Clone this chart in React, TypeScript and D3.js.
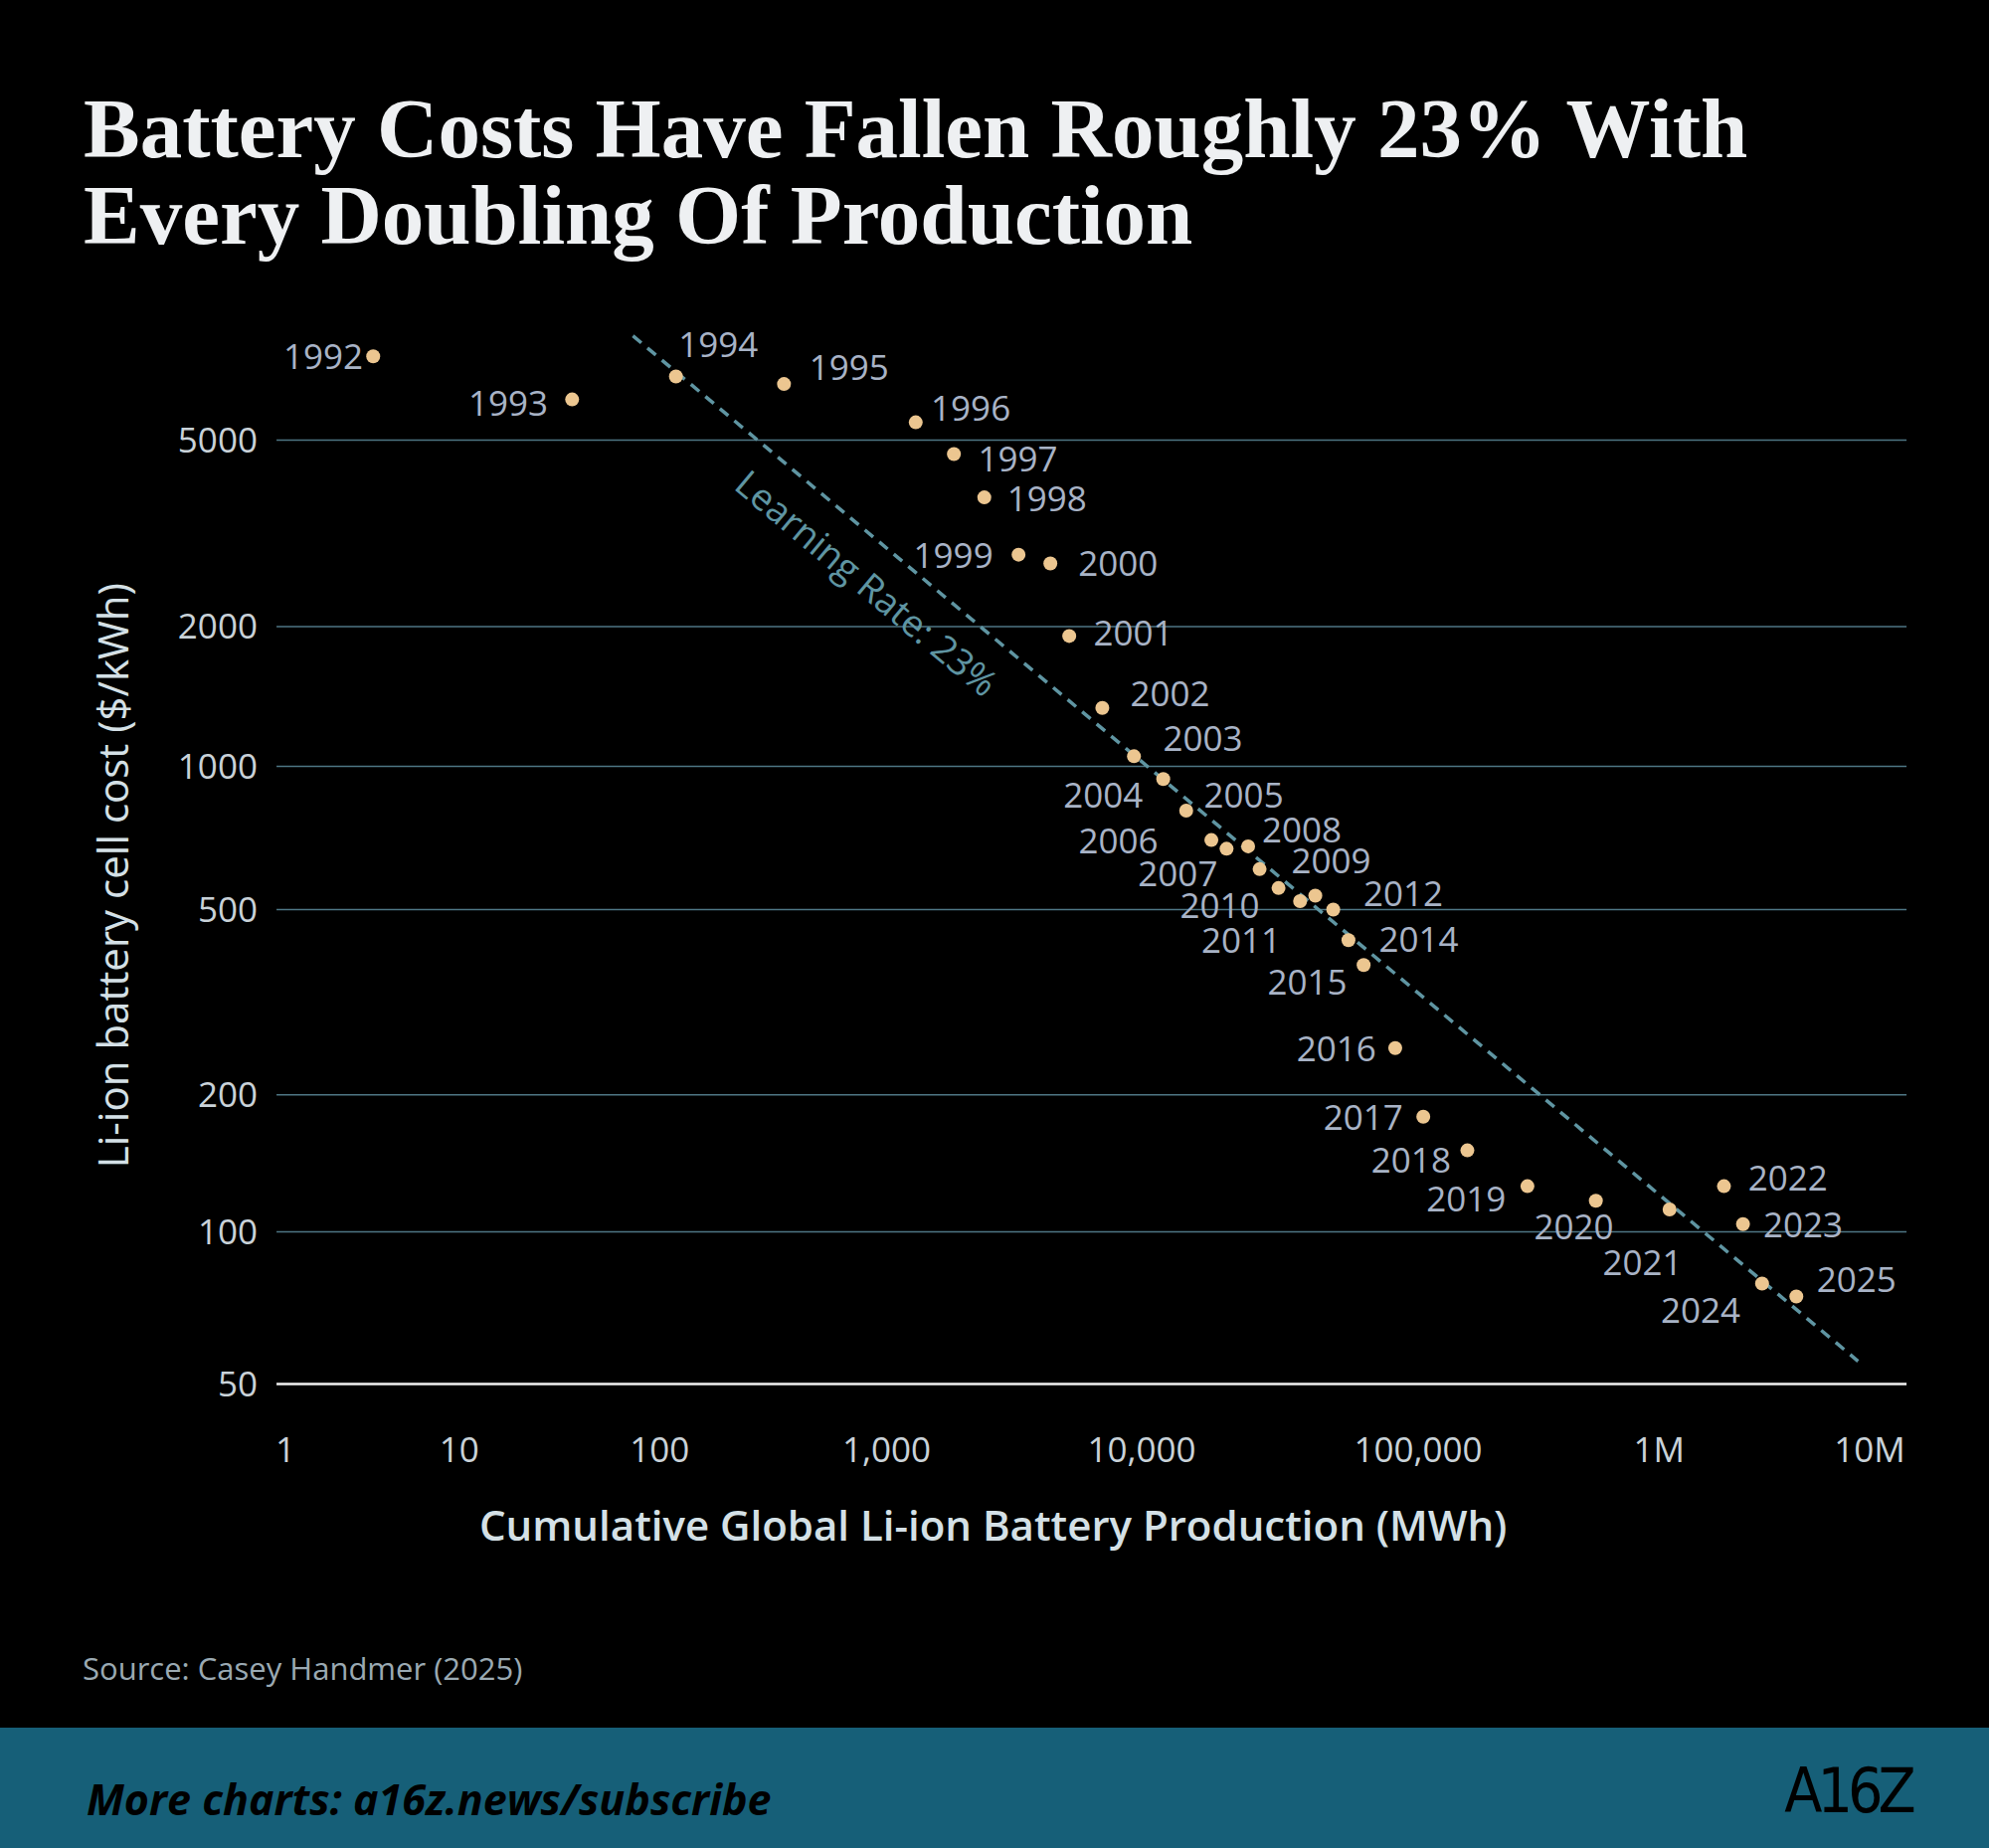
import { useRef, useEffect } from 'react';
import * as d3 from 'd3';

const S = 2000 / 1568;

const years = d3.range(1992, 2026);
const production = [3.2, 36.6, 118, 353, 1300, 1835, 2415, 3290, 4385, 5200, 7010, 9330, 11970, 14490, 17870, 20280, 24270, 26700, 31260, 37410, 42460, 49300, 55960, 63500, 82600, 105000, 160000, 284000, 546000, 1120000, 2030000, 2500000, 3080000, 4480000];
const cost = [7550, 6110, 6840, 6590, 5460, 4670, 3775, 2850, 2730, 1910, 1336, 1051, 940, 807, 700, 671, 679, 608, 555, 521, 535, 500, 430, 380, 252, 179, 151, 126, 117, 112, 126, 104, 79, 74.5];
// label placement: [dx, dy, anchor] in display px
const labelPos: [number, number, string][] = [
  [-8, 0, 'end'], [-19, 3, 'end'], [2, -25, 'start'], [20, -13, 'start'], [12, -11, 'start'],
  [19, 4, 'start'], [18, 1, 'start'], [-20, 1, 'end'], [22, 0, 'start'], [19, -2, 'start'],
  [22, -11, 'start'], [23, -14, 'start'], [-16, 13, 'end'], [14, -12, 'start'], [-42, 1, 'end'],
  [-7, 20, 'end'], [11, -13, 'start'], [25, -6, 'start'], [-15, 14, 'end'], [-15, 31, 'end'],
  [38, -1, 'start'], [0, 0, 'none'], [24, 0, 'start'], [-13, 14, 'end'], [-15, 1, 'end'],
  [-16, 1, 'end'], [-13, 8, 'end'], [-17, 10, 'end'], [14, 21, 'end'], [10, 42, 'end'],
  [19, -6, 'start'], [16, 1, 'start'], [-17, 21, 'end'], [16, -13, 'start'],
];

const xTicks = [1, 10, 100, 1000, 10000, 100000, 1000000, 10000000];
const xTickLabels = ['1', '10', '100', '1,000', '10,000', '100,000', '1M', '10M'];
const xTickPx = [225, 362, 520, 699, 900, 1118, 1308, 1474];
const yTicks = [50, 100, 200, 500, 1000, 2000, 5000];
const yTickPx = [1091, 971, 863, 717, 604, 494, 347];
const trend = [[73.6, 8350], [8800000, 55.5]];

export default function App() {
  const ref = useRef<SVGSVGElement>(null);
  useEffect(() => {
    const svg = d3.select(ref.current!);
    svg.selectAll('*').remove();
    const x = d3.scaleLog().domain(xTicks).range(xTickPx.map(v => v * S));
    const y = d3.scaleLog().domain(yTicks).range(yTickPx.map(v => v * S));
    const font = '"Open Sans", sans-serif';

    svg.append('rect').attr('width', 2000).attr('height', 1858).attr('fill', '#000');

    const title = svg.append('text').attr('font-family', '"Liberation Serif", serif').attr('font-size', 85)
      .attr('fill', '#eef0f2').attr('font-weight', 'bold');
    title.append('tspan').attr('x', 84).attr('y', 158).text('Battery Costs Have Fallen Roughly 23% With');
    title.append('tspan').attr('x', 84).attr('y', 245).text('Every Doubling Of Production');

    // grid
    yTicks.forEach(t => {
      svg.append('line').attr('x1', 218 * S).attr('x2', 1503 * S).attr('y1', y(t)).attr('y2', y(t))
        .attr('stroke', t === 50 ? '#f2f2f2' : '#4e7684').attr('stroke-width', t === 50 ? 2.5 : 1.5);
      svg.append('text').attr('x', 203 * S).attr('y', y(t)).attr('dy', '0.35em').attr('text-anchor', 'end')
        .attr('font-family', font).attr('font-size', 35).attr('fill', '#c9d2d8').text(t);
    });
    xTicks.forEach((t, i) => {
      svg.append('text').attr('x', x(t)).attr('y', 1143 * S).attr('dy', '0.35em').attr('text-anchor', 'middle')
        .attr('font-family', font).attr('font-size', 35).attr('fill', '#c9d2d8').text(xTickLabels[i]);
    });

    // trend line
    const [p0, p1] = trend.map(d => [x(d[0]), y(d[1])]);
    svg.append('line').attr('x1', p0[0]).attr('y1', p0[1]).attr('x2', p1[0]).attr('y2', p1[1])
      .attr('stroke', '#5f95a2').attr('stroke-width', 3.5).attr('stroke-dasharray', '11 8');
    const ang = Math.atan2(p1[1] - p0[1], p1[0] - p0[0]) * 180 / Math.PI;
    svg.append('text').attr('transform', `translate(${683 * S},${460 * S}) rotate(${ang})`)
      .attr('text-anchor', 'middle').attr('dy', '0.35em').attr('font-family', font).attr('font-size', 37)
      .attr('fill', '#5f95a2').text('Learning Rate: 23%');

    // points
    years.forEach((yr, i) => {
      const cx = x(production[i]), cy = y(cost[i]);
      svg.append('circle').attr('cx', cx).attr('cy', cy).attr('r', 7).attr('fill', '#ecc690');
      const [dx, dy, anchor] = labelPos[i];
      if (anchor === 'none') return;
      svg.append('text').attr('x', cx + dx * S).attr('y', cy + dy * S).attr('dy', '0.35em')
        .attr('text-anchor', anchor).attr('font-family', font).attr('font-size', 35)
        .attr('fill', '#a8b3c6').text(yr);
    });

    svg.append('text').attr('transform', `translate(${90 * S},${690 * S}) rotate(-90)`).attr('text-anchor', 'middle')
      .attr('dy', '0.35em').attr('font-family', font).attr('font-size', 42).attr('fill', '#d4e0e6')
      .text('Li-ion battery cell cost ($/kWh)');
    svg.append('text').attr('x', 783 * S).attr('y', 1203 * S).attr('dy', '0.35em').attr('text-anchor', 'middle')
      .attr('font-family', font).attr('font-size', 42).attr('font-weight', 600).attr('fill', '#d4e0e6')
      .text('Cumulative Global Li-ion Battery Production (MWh)');
    svg.append('text').attr('x', 83).attr('y', 1316 * S).attr('dy', '0.35em').attr('font-family', font)
      .attr('font-size', 31).attr('fill', '#9aa9b2').text('Source: Casey Handmer (2025)');

    svg.append('rect').attr('y', 1737).attr('width', 2000).attr('height', 121).attr('fill', '#165f78');
    svg.append('text').attr('x', 87).attr('y', 1810).attr('dy', '0.35em').attr('font-family', font)
      .attr('font-size', 43).attr('font-weight', 'bold').attr('font-style', 'italic').attr('fill', '#000')
      .text('More charts: a16z.news/subscribe');
    svg.append('text').attr('x', 1858).attr('y', 1800).attr('dy', '0.35em').attr('text-anchor', 'middle')
      .attr('font-family', '"DejaVu Sans Condensed", "DejaVu Sans", sans-serif').attr('font-size', 62).attr('fill', '#000')
      .attr('letter-spacing', -5).text('A16Z');
  }, []);
  return (
    <div style={{ position: 'absolute', left: 0, top: 0 }}>
      <svg ref={ref} width={2000} height={1858} style={{ display: 'block' }} />
    </div>
  );
}
